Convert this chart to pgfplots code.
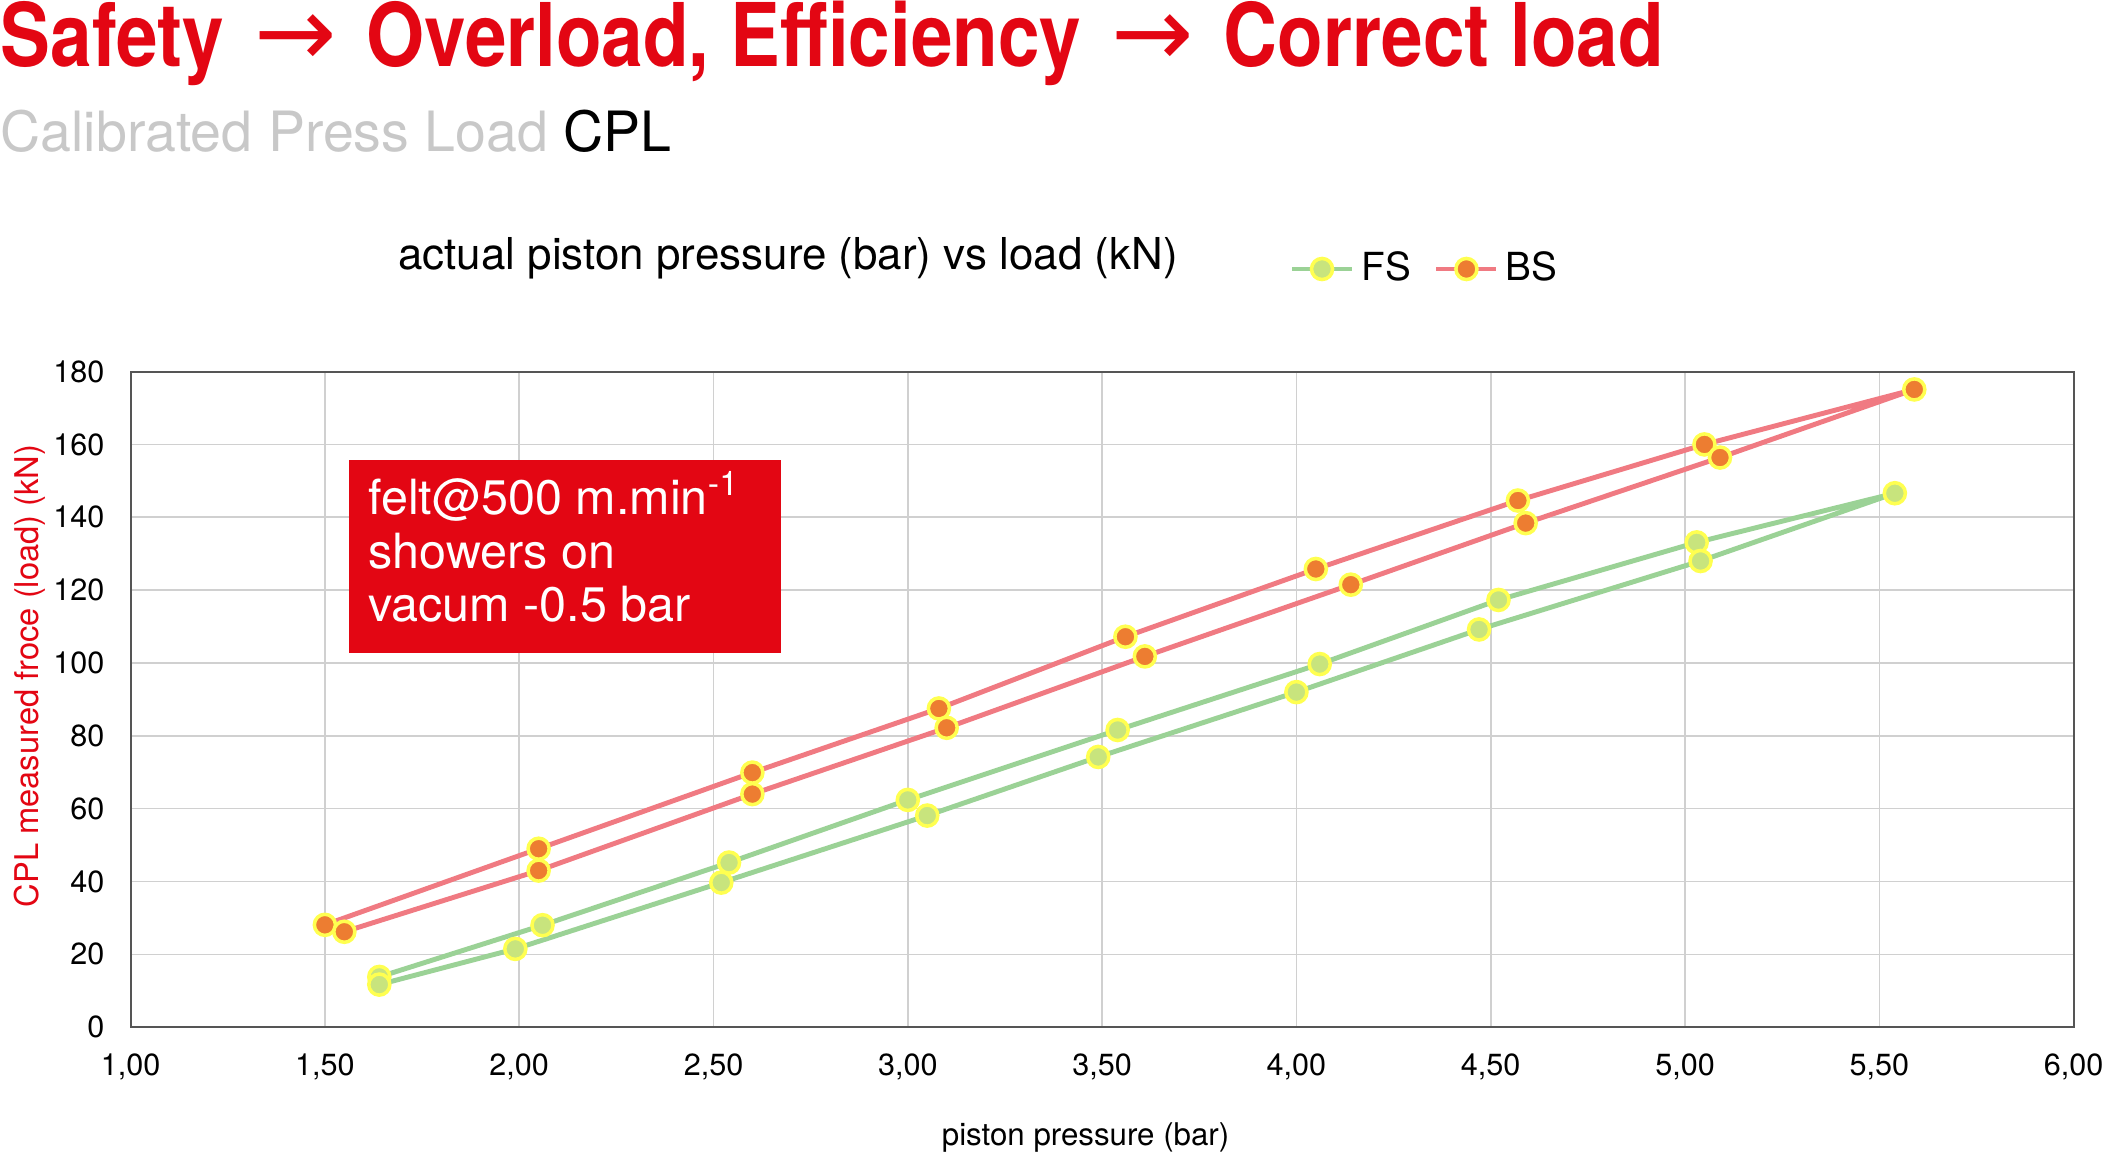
\documentclass[border=0pt]{standalone}
\usepackage{fontspec}
\setmainfont{TeX Gyre Heros}
\newfontfamily\condfont[FakeStretch=0.85]{TeX Gyre Heros}
\newfontfamily\arrowfont{DejaVu Sans}
\usepackage{pgfplots}
\pgfplotsset{compat=1.18}
\definecolor{titlered}{RGB}{227,6,19}
\definecolor{subgray}{RGB}{200,200,200}
\definecolor{gridgray}{RGB}{208,208,208}
\definecolor{axisgray}{RGB}{85,85,85}
\definecolor{fsline}{RGB}{155,210,150}
\definecolor{fsfill}{RGB}{200,228,125}
\definecolor{bsline}{RGB}{240,122,130}
\definecolor{bsfill}{RGB}{237,125,49}
\definecolor{mkedge}{RGB}{255,255,80}

\begin{document}
\begin{tikzpicture}
\begin{axis}[
    scale only axis,
    width=19.43cm, height=6.556cm,
    xmin=1, xmax=6, ymin=0, ymax=180,
    xtick={1,1.5,2,2.5,3,3.5,4,4.5,5,5.5,6},
    ytick={0,20,...,180},
    grid=major,
    major grid style={gridgray, line width=0.45pt},
    axis line style={axisgray, line width=0.6pt},
    major tick length=0pt,
    /pgf/number format/assume math mode=true,
    tick label style={font=\fontsize{8.7}{10}\selectfont, text=black},
    xticklabel style={anchor=north, inner sep=0pt, yshift=-2.6mm,
        /pgf/number format/.cd, fixed, fixed zerofill, precision=2, use comma},
    yticklabel style={anchor=east, inner sep=0pt, xshift=-2.56mm},
    xlabel={piston pressure (bar)},
    xlabel style={at={(rel axis cs:0.4915,-0.1684)}, anchor=center,
        font=\fontsize{8.9}{10}\selectfont},
    ylabel={CPL measured froce (load) (kN)},
    ylabel style={at={(rel axis cs:-0.0518,0.5357)}, anchor=center,
        font=\fontsize{9.3}{11}\selectfont, text=titlered},
    legend columns=2,
    legend style={draw=none, fill=none, at={(rel axis cs:0.5907,1.1565)},
        anchor=west, font=\fontsize{11}{13}\selectfont,
        /tikz/every even column/.append style={column sep=1.6mm}},
    legend cell align=left,
]

% FS: up one branch, back down the other
\addplot[fsline, line width=1.4pt, mark=*, mark size=3pt,
    mark options={fill=fsfill, draw=mkedge, line width=1pt}]
    table {
    x    y
    1.64 13.8
    2.06 28.0
    2.54 45.2
    3.00 62.4
    3.54 81.6
    4.06 99.7
    4.52 117.3
    5.03 133.1
    5.54 146.6
    5.04 128.0
    4.47 109.2
    4.00 92.0
    3.49 74.2
    3.05 58.1
    2.52 39.7
    1.99 21.5
    1.64 11.7
    };
\addlegendentry{FS}

% BS
\addplot[bsline, line width=1.4pt, mark=*, mark size=3pt,
    mark options={fill=bsfill, draw=mkedge, line width=1pt}]
    table {
    x    y
    1.50 28.1
    2.05 49.0
    2.60 69.9
    3.08 87.5
    3.56 107.2
    4.05 125.8
    4.57 144.6
    5.05 160.0
    5.59 175.1
    5.09 156.4
    4.59 138.4
    4.14 121.5
    3.61 101.8
    3.10 82.2
    2.60 64.0
    2.05 43.0
    1.55 26.2
    };
\addlegendentry{BS}

% annotation box
\fill[titlered] (axis cs:1.561,102.7) rectangle (axis cs:2.674,155.6);
\node[anchor=base west, inner sep=0pt, text=white, align=left,
    font=\fontsize{13.8}{15.3}\selectfont]
    at (axis cs:1.610,111.3)
    {felt@500 m.min\textsuperscript{-1}\\showers on\\vacum -0.5 bar};
\end{axis}

% headings above the chart
\node[anchor=base west, inner sep=0pt, text=titlered,
    font=\condfont\bfseries\fontsize{25}{30}\selectfont]
    at (-1.306cm,9.602cm)
    {Safety\hspace{3mm}{\arrowfont\mdseries\fontsize{28}{30}\selectfont →}\hspace{3mm}Overload, Efficiency\hspace{3mm}{\arrowfont\mdseries\fontsize{28}{30}\selectfont →}\hspace{3mm}Correct load};
\node[anchor=base west, inner sep=0pt, font=\fontsize{15.8}{19}\selectfont]
    at (-1.306cm,8.752cm)
    {\textcolor{subgray}{Calibrated Press Load} CPL};
\node[anchor=center, inner sep=0pt, font=\fontsize{12.5}{15}\selectfont]
    at (6.574cm,7.692cm) {actual piston pressure (bar) vs load (kN)};

\pgfresetboundingbox
\path[use as bounding box] (-1.306cm,-1.258cm) rectangle (19.804cm,10.272cm);
\end{tikzpicture}
\end{document}
